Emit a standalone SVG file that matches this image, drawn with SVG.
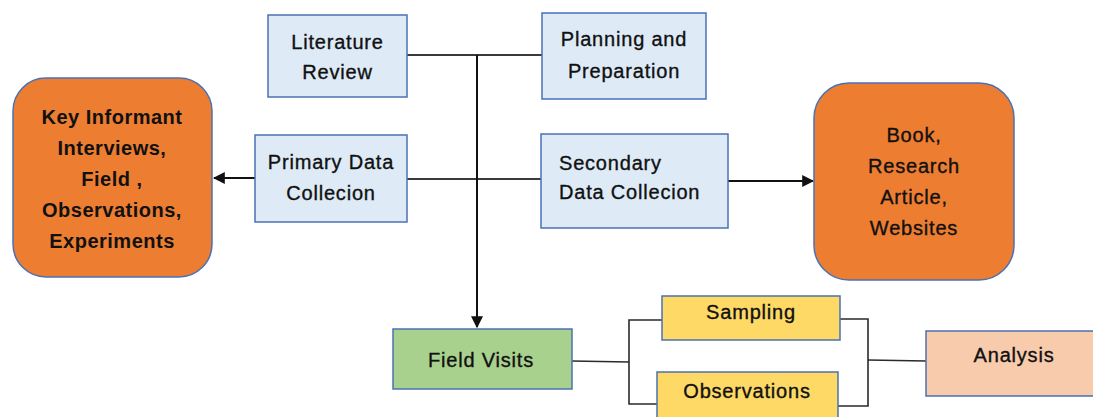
<svg xmlns="http://www.w3.org/2000/svg" width="1093" height="417" viewBox="0 0 1093 417">
  <style>
    text { font-family: "Liberation Sans", Arial, sans-serif; font-size: 20px; fill: #111; stroke: #111; stroke-width: 0.35px; text-anchor: middle; letter-spacing: 0.8px; }
    .bold { font-weight: bold; stroke-width: 0; letter-spacing: 0.5px; }
    .left { text-anchor: start; }
    .box { stroke: #4a72b2; stroke-width: 1.5; }
    .blue { fill: #deebf7; }
    .orange { fill: #ed7d31; }
    .green { fill: #a9d18e; }
    .yellow { fill: #ffd966; }
    .peach { fill: #f8cbad; }
    .conn { fill: none; stroke: #3a3a3a; stroke-width: 2; }
    .thin { fill: none; stroke: #2a2a2a; stroke-width: 1.6; }
    .arrow { fill: none; stroke: #111; stroke-width: 2; }
  </style>
  <defs>
    <marker id="head" viewBox="0 0 10 10" refX="9" refY="5" markerWidth="6" markerHeight="6" orient="auto" markerUnits="strokeWidth">
      <path d="M0,0 L10,5 L0,10 z" fill="#111"/>
    </marker>
  </defs>

  <!-- connectors -->
  <g id="connectors">
    <line class="conn" x1="407" y1="55" x2="542" y2="55" stroke="#6d6d6d"/>
    <line class="conn" x1="407" y1="179" x2="541" y2="179"/>
    <line class="arrow" x1="477" y1="55" x2="477" y2="327" marker-end="url(#head)"/>
    <line class="arrow" x1="255" y1="178" x2="214" y2="178" marker-end="url(#head)"/>
    <line class="arrow" x1="728" y1="181" x2="813" y2="181" marker-end="url(#head)"/>
    <!-- split from field visits -->
    <polyline class="thin" points="572,361 629,362"/>
    <polyline class="thin" points="662,320 629,320 629,404 657,404"/>
    <!-- join into analysis -->
    <polyline class="thin" points="840,319 868,319 868,406 838,406"/>
    <polyline class="thin" points="868,360 926,361"/>
  </g>

  <g id="literature-review">
    <rect class="box blue" x="268" y="15" width="139" height="82"/>
    <text x="337.5" y="49">Literature</text>
    <text x="337.5" y="79">Review</text>
  </g>

  <g id="planning">
    <rect class="box blue" x="542" y="13" width="164" height="86"/>
    <text x="624" y="46">Planning and</text>
    <text x="624" y="78">Preparation</text>
  </g>

  <g id="primary">
    <rect class="box blue" x="255" y="135" width="152" height="87"/>
    <text x="331" y="169">Primary Data</text>
    <text x="331" y="200">Collecion</text>
  </g>

  <g id="secondary">
    <rect class="box blue" x="541" y="134" width="187" height="94"/>
    <text class="left" x="559" y="170">Secondary</text>
    <text class="left" x="559" y="199">Data Collecion</text>
  </g>

  <g id="key-informant">
    <rect class="box orange" x="13" y="78" width="199" height="199" rx="33" ry="33"/>
    <text class="bold" x="112" y="124">Key Informant</text>
    <text class="bold" x="112" y="155">Interviews,</text>
    <text class="bold" x="112" y="186">Field ,</text>
    <text class="bold" x="112" y="217">Observations,</text>
    <text class="bold" x="112" y="248">Experiments</text>
  </g>

  <g id="sources">
    <rect class="box orange" x="814" y="83" width="200" height="197" rx="35" ry="35"/>
    <text x="914" y="142">Book,</text>
    <text x="914" y="173">Research</text>
    <text x="914" y="204">Article,</text>
    <text x="914" y="235">Websites</text>
  </g>

  <g id="field-visits">
    <rect class="box green" x="393" y="329" width="179" height="60"/>
    <text x="481" y="367">Field Visits</text>
  </g>

  <g id="sampling">
    <rect class="box yellow" x="662" y="296" width="178" height="44"/>
    <text x="751" y="319">Sampling</text>
  </g>

  <g id="observations">
    <rect class="box yellow" x="657" y="372" width="181" height="60"/>
    <text x="747" y="398">Observations</text>
  </g>

  <g id="analysis">
    <rect class="box peach" x="926" y="331" width="180" height="65"/>
    <text x="1014" y="362">Analysis</text>
  </g>
</svg>
